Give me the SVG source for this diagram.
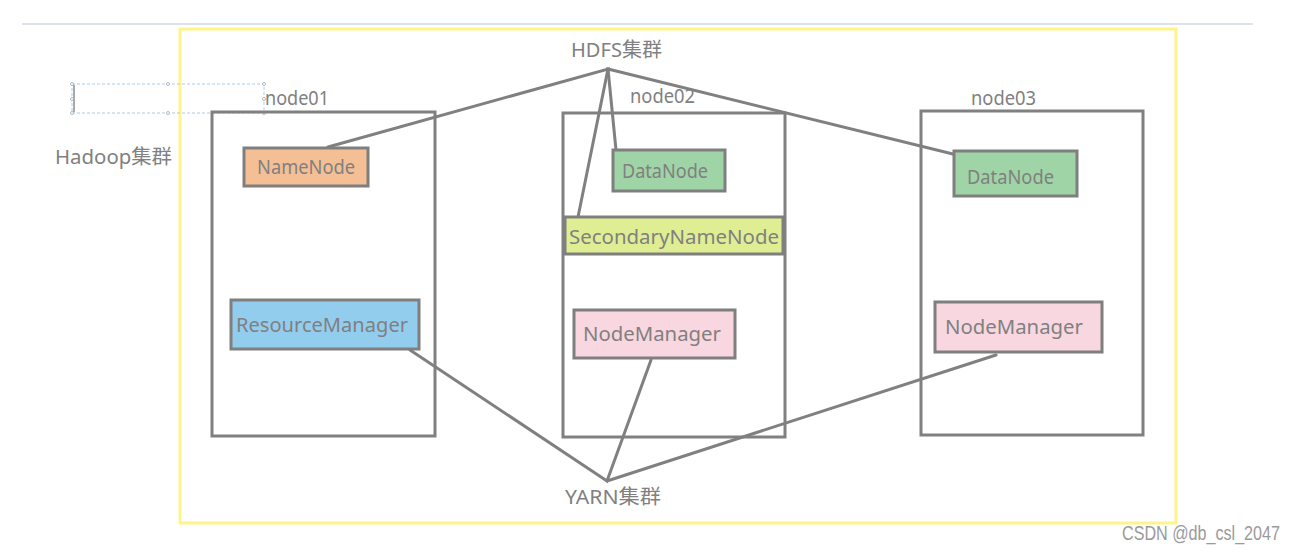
<svg xmlns="http://www.w3.org/2000/svg" width="1296" height="552" viewBox="0 0 1296 552">
<style>
text{font-family:"Noto Sans","Noto Sans CJK SC",sans-serif;fill:#808080;font-size:20px}
.box{fill:none;stroke:#808080;stroke-width:3}
.n{stroke:#7f7f7f;stroke-width:3}
.c{stroke:#808080;stroke-width:3;fill:none;stroke-linecap:round}
.h{fill:#fff;stroke:#a0a8b0;stroke-width:0.8}
</style>
<rect width="1296" height="552" fill="#fff"/>
<line x1="22" y1="24" x2="1253" y2="24" stroke="#dde3ec" stroke-width="2"/>
<rect x="180" y="29" width="996" height="494" fill="none" stroke="#fff38a" stroke-width="3"/>
<g id="selection">
<rect x="72" y="84" width="192" height="29" fill="none" stroke="#a9cbe8" stroke-width="1" stroke-dasharray="3,2"/>
<line x1="74" y1="85" x2="74" y2="112" stroke="#555" stroke-width="1"/>
<circle class="h" cx="72" cy="84" r="1.5"/><circle class="h" cx="168" cy="84" r="1.5"/><circle class="h" cx="264" cy="84" r="1.5"/>
<circle class="h" cx="72" cy="99" r="1.5"/><circle class="h" cx="264" cy="99" r="1.5"/>
<circle class="h" cx="72" cy="113" r="1.5"/><circle class="h" cx="168" cy="113" r="1.5"/><circle class="h" cx="264" cy="113" r="1.5"/>
</g>
<text x="55" y="164" font-size="21" textLength="117" lengthAdjust="spacingAndGlyphs">Hadoop集群</text>
<g id="connectors">
<polyline class="c" points="328,147 608,69 578,217"/>
<polyline class="c" points="616,150 608,69 957,155"/>
<polyline class="c" points="410,350 607,481 651,360"/>
<line class="c" x1="607" y1="481" x2="996" y2="355"/>
</g>
<g id="hdfs"><text x="571" y="57" textLength="91" lengthAdjust="spacingAndGlyphs">HDFS集群</text></g>
<g id="yarn"><text x="565" y="504" textLength="96" lengthAdjust="spacingAndGlyphs">YARN集群</text></g>
<g id="node01">
<rect class="box" x="212" y="112" width="223" height="324"/>
<text x="265" y="105" font-size="18" textLength="64" lengthAdjust="spacingAndGlyphs">node01</text>
</g>
<g id="namenode">
<rect class="n" x="244" y="148" width="124" height="38" fill="#f4bf94"/>
<text x="257" y="174" textLength="98" lengthAdjust="spacingAndGlyphs">NameNode</text>
</g>
<g id="resourcemanager">
<rect class="n" x="231" y="300" width="188" height="49" fill="#93cdee"/>
<text x="236" y="332" textLength="172" lengthAdjust="spacingAndGlyphs">ResourceManager</text>
</g>
<g id="node02">
<rect class="box" x="563" y="113" width="222" height="324"/>
<text x="630" y="103" font-size="18" textLength="65" lengthAdjust="spacingAndGlyphs">node02</text>
</g>
<g id="datanode02">
<rect class="n" x="613" y="150" width="112" height="41" fill="#9fd4a6"/>
<text x="622" y="178" font-size="18" textLength="86" lengthAdjust="spacingAndGlyphs">DataNode</text>
</g>
<g id="secondarynamenode">
<rect class="n" x="565" y="217" width="218" height="37" fill="#dfee93"/>
<text x="569" y="244" textLength="210" lengthAdjust="spacingAndGlyphs">SecondaryNameNode</text>
</g>
<g id="nodemanager02">
<rect class="n" x="574" y="310" width="161" height="48" fill="#f8d7e1"/>
<text x="583" y="341" textLength="138" lengthAdjust="spacingAndGlyphs">NodeManager</text>
</g>
<g id="node03">
<rect class="box" x="921" y="111" width="222" height="324"/>
<text x="971" y="105" font-size="18" textLength="65" lengthAdjust="spacingAndGlyphs">node03</text>
</g>
<g id="datanode03">
<rect class="n" x="954" y="151" width="123" height="45" fill="#9fd4a6"/>
<text x="967" y="184" font-size="18" textLength="87" lengthAdjust="spacingAndGlyphs">DataNode</text>
</g>
<g id="nodemanager03">
<rect class="n" x="935" y="302" width="167" height="50" fill="#f8d7e1"/>
<text x="945" y="334" textLength="138" lengthAdjust="spacingAndGlyphs">NodeManager</text>
</g>
<text x="1122" y="540" font-size="14" textLength="158" lengthAdjust="spacingAndGlyphs" style="font-family:'Liberation Sans',sans-serif;fill:#9a9a9a">CSDN @db_csl_2047</text>
</svg>
